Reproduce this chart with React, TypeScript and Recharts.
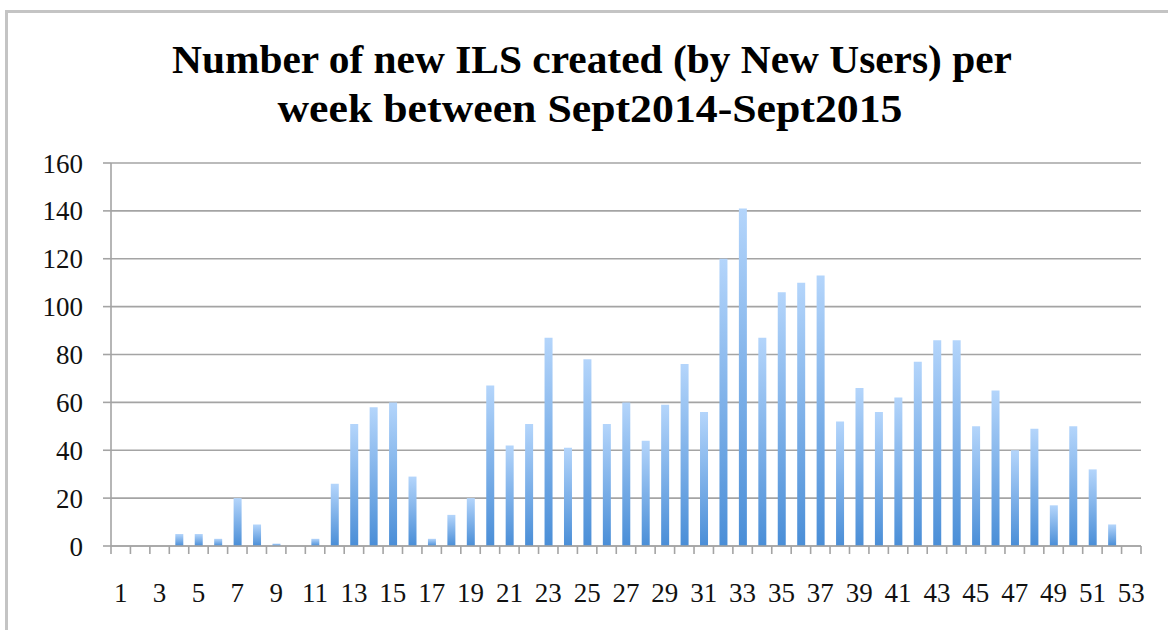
import React from "react";
import { BarChart, Bar, XAxis, YAxis, CartesianGrid } from "recharts";

const weeks: number[] = Array.from({ length: 53 }, (_, i) => i + 1);
const newIls: number[] = [
  0, 0, 0, 5, 5, 3, 20, 9, 1, 0,
  3, 26, 51, 58, 60, 29, 3, 13, 20, 67,
  42, 51, 87, 41, 78, 51, 60, 44, 59, 76,
  56, 120, 141, 87, 106, 110, 113, 52, 66, 56,
  62, 77, 86, 86, 50, 65, 40, 49, 17, 50,
  32, 9, 0,
];
const yTicks: number[] = [0, 20, 40, 60, 80, 100, 120, 140, 160];
const titleLines: string[] = [
  "Number of new ILS created (by New Users) per",
  "week between Sept2014-Sept2015",
];

const data = weeks.map((w, i) => ({ week: w, value: newIls[i] }));

const GRID = "#a4a4a4";
const FONT = "'Liberation Serif', 'DejaVu Serif', serif";

const WeekTick = (props: any) => {
  const { x, y, payload, index } = props;
  const half = payload?.offset ?? 0;
  const i = payload?.index ?? index ?? 0;
  const isLast = i === weeks.length - 1;
  return (
    <g>
      <line x1={x - half} x2={x - half} y1={y} y2={y + 8} stroke={GRID} strokeWidth={1.6} />
      {isLast && (
        <line x1={x + half} x2={x + half} y1={y} y2={y + 8} stroke={GRID} strokeWidth={1.6} />
      )}
      {i % 2 === 0 && (
        <text
          x={x}
          y={y + 37}
          dy="0.71em"
          textAnchor="middle"
          fontSize={27}
          fontFamily={FONT}
          fill="#111"
        >
          {payload.value}
        </text>
      )}
    </g>
  );
};

export default function App() {
  return (
    <div
      style={{
        position: "relative",
        width: 1168,
        height: 630,
        overflow: "hidden",
        background: "#fff",
      }}
    >
      <style>{`body{margin:0;}`}</style>
      <div
        style={{
          position: "absolute",
          left: 5,
          top: 10,
          width: 1300,
          height: 800,
          border: "3px solid #c4c4c4",
          boxSizing: "border-box",
        }}
      />
      <svg
        width={1168}
        height={150}
        style={{ position: "absolute", left: 0, top: 0 }}
      >
        <text
          x={592}
          y={73}
          textAnchor="middle"
          fontFamily={FONT}
          fontWeight="bold"
          fontSize={39}
          fill="#000"
          textLength={840}
          lengthAdjust="spacingAndGlyphs"
        >
          {titleLines[0]}
        </text>
        <text
          x={590}
          y={122}
          textAnchor="middle"
          fontFamily={FONT}
          fontWeight="bold"
          fontSize={39}
          fill="#000"
          textLength={625}
          lengthAdjust="spacingAndGlyphs"
        >
          {titleLines[1]}
        </text>
      </svg>
      <div style={{ position: "absolute", left: 0, top: 0 }}>
        <BarChart
          width={1168}
          height={630}
          data={data}
          margin={{ top: 163, right: 27, left: 0, bottom: 24 }}
          barCategoryGap={0}
        >
          <defs>
            <linearGradient id="barGrad" x1="0" y1="0" x2="0" y2="1">
              <stop offset="0%" stopColor="#b4d5fb" />
              <stop offset="100%" stopColor="#4a8ed7" />
            </linearGradient>
          </defs>
          <CartesianGrid vertical={false} stroke={GRID} strokeWidth={1.6} />
          <XAxis
            dataKey="week"
            type="category"
            interval={0}
            height={60}
            axisLine={{ stroke: GRID, strokeWidth: 1.6 }}
            tickLine={false}
            tickSize={0}
            tickMargin={0}
            tick={<WeekTick />}
          />
          <YAxis
            width={111}
            domain={[0, 160]}
            ticks={yTicks}
            interval={0}
            tickSize={8}
            tickMargin={20}
            axisLine={{ stroke: GRID, strokeWidth: 1.6 }}
            tickLine={{ stroke: GRID, strokeWidth: 1.6 }}
            tick={{ fontSize: 27, fontFamily: FONT, fill: "#111" }}
          />
          <Bar
            dataKey="value"
            barSize={8}
            fill="url(#barGrad)"
            isAnimationActive={false}
          />
        </BarChart>
      </div>
    </div>
  );
}
